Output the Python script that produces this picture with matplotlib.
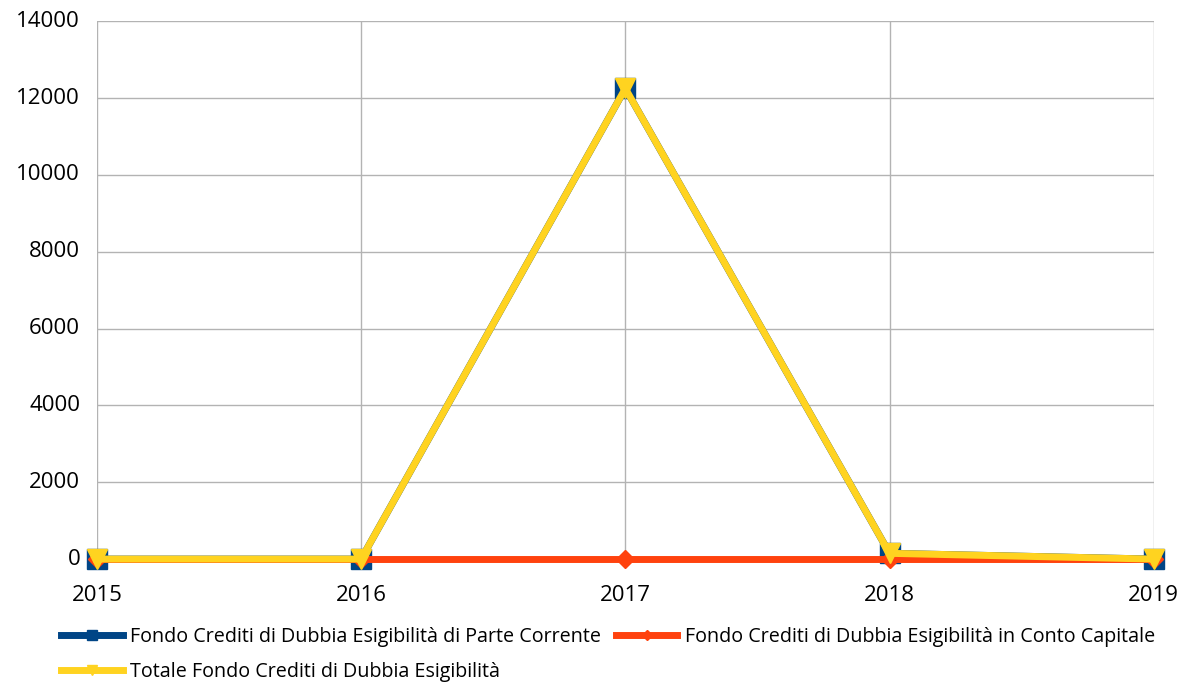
import matplotlib.pyplot as plt

years = ['2015', '2016', '2017', '2018', '2019']
parte_corrente = [0, 0, 12250, 150, 0]
conto_capitale = [0, 0, 0, 0, 0]
totale = [0, 0, 12250, 150, 0]

labels = ['Fondo Crediti di Dubbia Esigibilità di Parte Corrente',
          'Fondo Crediti di Dubbia Esigibilità in Conto Capitale',
          'Totale Fondo Crediti di Dubbia Esigibilità']

plt.rcParams['font.family'] = ['Open Sans', 'DejaVu Sans']

fig = plt.figure(figsize=(11.81, 6.86), dpi=100)
ax = fig.add_axes([0.082, 0.185, 0.895, 0.784])

x = list(range(len(years)))
l1, = ax.plot(x, parte_corrente, color='#004586', lw=5, marker='s', ms=14, label=labels[0], clip_on=False)
l2, = ax.plot(x, conto_capitale, color='#ff420e', lw=5, marker='D', ms=9, label=labels[1], clip_on=False)
l3, = ax.plot(x, totale, color='#ffd320', lw=5, marker='v', ms=14, label=labels[2], clip_on=False)

ax.set_xlim(0, 4)
ax.set_ylim(0, 14000)
ax.set_yticks(range(0, 14001, 2000))
ax.set_xticks(x)
ax.set_xticklabels(years)
ax.grid(True, color='#b3b3b3', lw=1)
ax.set_axisbelow(True)
for s in ax.spines.values():
    s.set_visible(False)
ax.tick_params(length=0, labelsize=16)
ax.tick_params(axis='x', pad=19)
ax.tick_params(axis='y', pad=12)
for lab in ax.get_yticklabels():
    lab.set_verticalalignment('center')

leg = fig.legend(handles=[l1, l3, l2], labels=[labels[0], labels[2], labels[1]],
                 ncol=2, loc='lower left', bbox_to_anchor=(0.037, -0.02), frameon=False,
                 fontsize=14.2, handlelength=3.1, columnspacing=0.75, handletextpad=0.4,
                 labelspacing=0.75, markerscale=0.55)

fig.savefig('out.png', dpi=100)
